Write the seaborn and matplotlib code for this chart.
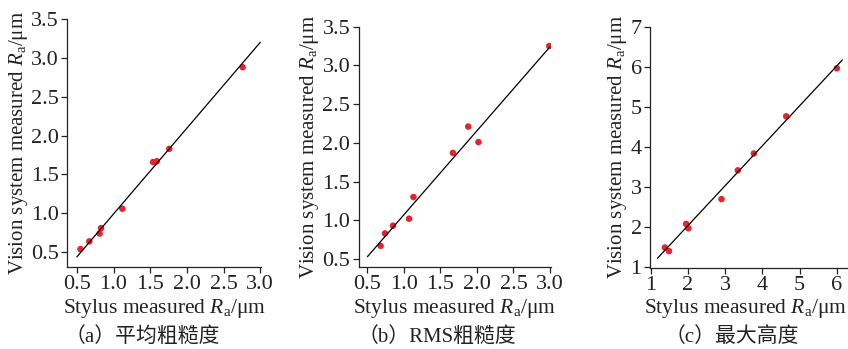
import numpy as np
import seaborn as sns
import matplotlib.pyplot as plt

# ---------------- data ----------------
# (a) average roughness
aStylus = [0.55, 0.67, 0.81, 0.83, 1.12, 1.54, 1.59, 1.76, 2.76]
aVision = [0.54, 0.64, 0.74, 0.81, 1.06, 1.66, 1.67, 1.83, 2.88]
aFitX = [0.5, 3.0]
aFitY = [0.44, 3.20]

# (b) RMS roughness
bStylus = [0.68, 0.74, 0.85, 1.07, 1.13, 1.67, 1.88, 2.02, 2.99]
bVision = [0.67, 0.83, 0.93, 1.02, 1.30, 1.87, 2.21, 2.01, 3.25]
bFitX = [0.5, 3.0]
bFitY = [0.53, 3.24]

# (c) max height
cStylus = [1.38, 1.49, 1.95, 2.01, 2.90, 3.34, 3.77, 4.64, 6.00]
cVision = [1.48, 1.39, 2.07, 1.96, 2.69, 3.41, 3.83, 4.76, 5.96]
cFitX = [1.18, 6.15]
cFitY = [1.21, 6.17]

aTicks = [0.5, 1.0, 1.5, 2.0, 2.5, 3.0, 3.5]
cTicks = [1, 2, 3, 4, 5, 6, 7]

captions = ['（a）平均粗糙度', '（b）RMS粗糙度', '（c）最大高度']

sns.set_theme(style='ticks')
plt.rcParams['font.family'] = ['Liberation Serif', 'Noto Sans CJK SC']
plt.rcParams['mathtext.fontset'] = 'custom'
plt.rcParams['mathtext.rm'] = 'Liberation Serif'
plt.rcParams['mathtext.it'] = 'Liberation Serif:italic'

fig = plt.figure(figsize=(8.48, 3.49), dpi=100)

W, H = 848.0, 349.0
def addAx(left, right, top, bottom):
    return fig.add_axes([left / W, 1 - bottom / H, (right - left) / W, (bottom - top) / H])

axA = addAx(67.3, 261.0, 19.0, 267.0)
axB = addAx(358.7, 550.7, 26.7, 266.7)
axC = addAx(650.0, 848.0, 26.7, 267.5)

red = '#e8232b'
ink = '#222222'
xlab = r'Stylus measured $\mathit{R}_{\mathrm{a}}$/μm'
ylab = r'Vision system measured $\mathit{R}_{\mathrm{a}}$/μm'

panels = [
    (axA, aStylus, aVision, aFitX, aFitY, (0.37, 3.01), (0.31, 3.5), aTicks[:-1], aTicks),
    (axB, bStylus, bVision, bFitX, bFitY, (0.38, 3.01), (0.40, 3.5), aTicks[:-1], aTicks),
    (axC, cStylus, cVision, cFitX, cFitY, (0.98, 6.3), (0.98, 7.0), cTicks[:-1], cTicks),
]

for ax, xs, ys, fx, fy, xl, yl, xt, yt in panels:
    sns.scatterplot(x=xs, y=ys, ax=ax, color=red, s=22, edgecolor='none', zorder=2)
    sns.lineplot(x=fx, y=fy, ax=ax, color='black', linewidth=0.9, zorder=3)
    ax.set_xlim(*xl)
    ax.set_ylim(*yl)
    ax.set_xticks(xt)
    ax.set_yticks(yt)
    if ax is axC:
        ax.set_xticklabels([str(t) for t in xt])
        ax.set_yticklabels([str(t) for t in yt])
    else:
        ax.set_xticklabels([f'{t:.1f}' for t in xt])
        ax.set_yticklabels([f'{t:.1f}' for t in yt])
    sns.despine(ax=ax)
    for s in ['left', 'bottom']:
        ax.spines[s].set_linewidth(0.9)
        ax.spines[s].set_color(ink)
    ax.tick_params(direction='out', length=4, width=0.9, labelsize=16, pad=2,
                   colors=ink)
    ax.set_xlabel(xlab, fontsize=15.5, color=ink, va='center')
    ax.set_ylabel(ylab, fontsize=15, labelpad=1, color=ink)
    # x label centre sits at about y = 308 px in the reference
    bbox = ax.get_position()
    yLab = (1 - 308 / H - bbox.y0) / bbox.height
    if ax is axC:
        ax.xaxis.label.set_ha('right')
        ax.xaxis.set_label_coords(0.995, yLab)
    else:
        ax.xaxis.set_label_coords(0.5, yLab)

fig.text(65 / W, 1 - 337 / H, captions[0], fontsize=15, ha='left', va='center', color=ink)
fig.text(358 / W, 1 - 337 / H, captions[1], fontsize=15, ha='left', va='center', color=ink)
fig.text(732 / W, 1 - 337 / H, captions[2], fontsize=15, ha='center', va='center', color=ink)

fig.savefig('out.png', dpi=100)
